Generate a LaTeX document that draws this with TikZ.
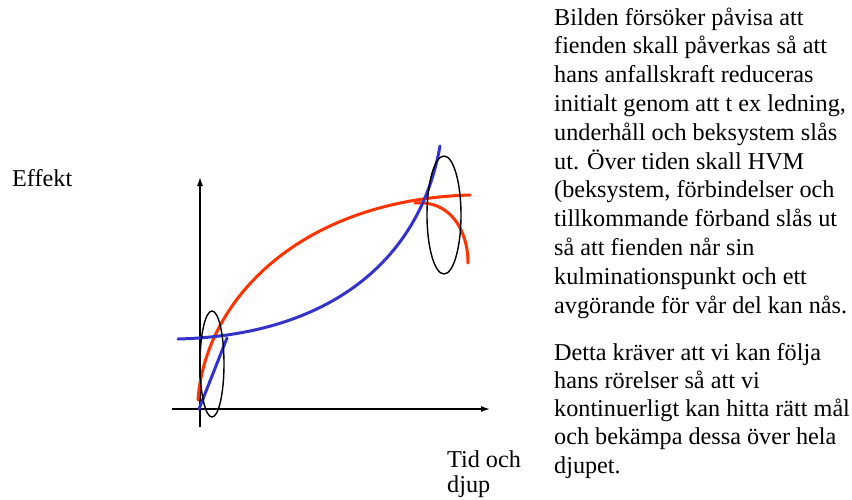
\documentclass[tikz,border=0pt]{standalone}
\usepackage{fontspec}
\setmainfont{Liberation Serif}
\usetikzlibrary{arrows.meta}
\definecolor{cred}{RGB}{255,51,0}
\definecolor{cblue}{RGB}{51,51,204}
\begin{document}
\begin{tikzpicture}[x=1pt,y=-1pt,
  axis/.style={line width=1.4pt,-{Latex[length=9pt,width=6pt]}},
  redc/.style={cred,line width=3pt,line cap=round},
  bluec/.style={cblue,line width=3pt,line cap=round},
  ring/.style={black,line width=1.4pt},
  txt/.style={inner sep=0pt,anchor=base west,font=\fontsize{24.2}{28.7}\selectfont}]
\useasboundingbox (0,0) rectangle (852,499);
\clip (0,0) rectangle (852,499);
\fill[white] (0,0) rectangle (852,499);
% axes
\draw[axis] (200,427) -- (200,177);
\draw[axis] (172,409) -- (490,409);
% red curves
\draw[redc] (198,400) .. controls (205,300) and (300,200) .. (470,195);
\draw[redc] (415,203) .. controls (450,200) and (468,230) .. (468,263);
% blue curves
\draw[bluec] (178,339) .. controls (330,335) and (420,260) .. (440,146);
\draw[bluec] (199,409) -- (227,338);
% ellipses
\draw[ring] (212,364) ellipse [x radius=12, y radius=53];
\draw[ring] (444,215) ellipse [x radius=17, y radius=59];
% labels
\node[txt] (eff) at (12,186) {Effekt};
\node[txt] (tid1) at (447,467) {Tid och};
\node[txt] (tid2) at (447,492) {djup};
\foreach \t [count=\i from 0] in {
  {Bilden försöker påvisa att},
  {fienden skall påverkas så att},
  {hans anfallskraft reduceras},
  {initialt genom att t ex ledning,},
  {underhåll och beksystem slås},
  {ut. Över tiden skall HVM},
  {(beksystem, förbindelser och},
  {tillkommande förband slås ut},
  {så att fienden når sin},
  {kulminationspunkt och ett},
  {avgörande för vår del kan nås.}}
  \node[txt] (pa\i) at (554,25+28.8*\i) {\t};
\foreach \t [count=\i from 0] in {
  {Detta kräver att vi kan följa},
  {hans rörelser så att vi},
  {kontinuerligt kan hitta rätt mål},
  {och bekämpa dessa över hela},
  {djupet.}}
  \node[txt] (pb\i) at (554,360+28.25*\i) {\t};
\end{tikzpicture}
\end{document}
